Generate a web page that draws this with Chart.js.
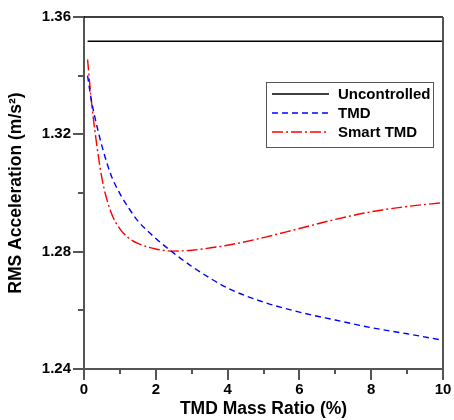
<!DOCTYPE html>
<html>
<head>
<meta charset="utf-8">
<script src="https://cdn.jsdelivr.net/npm/chart.js@4"></script>
<style>
  html, body { margin: 0; padding: 0; background: #fff; }
  #wrap { width: 454px; height: 420px; }
</style>
</head>
<body>
<div id="wrap"><canvas id="rmsChart" width="454" height="420"></canvas></div>
<script>
// mass ratio (%) sample points
const massRatio = [0.1, 0.2, 0.3, 0.5, 0.75, 1, 1.25, 1.5, 2, 2.5, 3, 4, 5, 6, 7, 8, 9, 10];
const uncontrolled = [1.3517, 1.3517, 1.3517, 1.3517, 1.3517, 1.3517, 1.3517, 1.3517, 1.3517,
                      1.3517, 1.3517, 1.3517, 1.3517, 1.3517, 1.3517, 1.3517, 1.3517, 1.3517];
const tmd = [1.3400, 1.3320, 1.3260, 1.3160, 1.3062, 1.2998, 1.2948, 1.2905, 1.2845, 1.2795,
             1.2750, 1.2676, 1.2628, 1.2594, 1.2567, 1.2541, 1.2520, 1.2498];
const smartTmd = [1.3455, 1.3320, 1.3215, 1.3050, 1.2935, 1.2878, 1.2846, 1.2828, 1.2809, 1.2802,
                  1.2805, 1.2822, 1.2848, 1.2879, 1.2910, 1.2936, 1.2954, 1.2967];
const seriesNames = ['Uncontrolled', 'TMD', 'Smart TMD'];

const xTicks = [0, 2, 4, 6, 8, 10];
const xMinor = [1, 3, 5, 7, 9];
const yTicks = [1.24, 1.28, 1.32, 1.36];
const yMinor = [1.26, 1.30, 1.34];

const axisColor = '#555';
const boldFont = (size) => ({ family: 'Liberation Sans, Arial, sans-serif', size: size, weight: 'bold' });

const toPoints = (ys) => massRatio.map((x, i) => ({ x: x, y: ys[i] }));

// box on top/right, minor ticks and the inner legend
const framePlugin = {
  id: 'frame',
  afterDraw(chart) {
    const { ctx, chartArea: a, scales } = chart;
    ctx.save();
    // top and right border
    ctx.strokeStyle = '#000';
    ctx.lineWidth = 1.5;
    ctx.beginPath();
    ctx.moveTo(a.left, a.top);
    ctx.lineTo(a.right, a.top);
    ctx.stroke();
    ctx.strokeStyle = axisColor;
    ctx.lineWidth = 2;
    ctx.beginPath();
    ctx.moveTo(a.right, a.top);
    ctx.lineTo(a.right, a.bottom + 1);
    ctx.stroke();

    // minor ticks
    ctx.lineWidth = 2;
    ctx.strokeStyle = axisColor;
    yMinor.forEach(v => {
      const y = Math.round(scales.y.getPixelForValue(v));
      ctx.beginPath();
      ctx.moveTo(a.left - 6, y);
      ctx.lineTo(a.left, y);
      ctx.stroke();
    });
    xMinor.forEach(v => {
      const x = Math.round(scales.x.getPixelForValue(v));
      ctx.beginPath();
      ctx.moveTo(x, a.bottom);
      ctx.lineTo(x, a.bottom + 5);
      ctx.stroke();
    });

    // legend box
    const bx = a.left + 182, by = a.top + 65, bw = 167, bh = 65;
    ctx.lineWidth = 1;
    ctx.strokeStyle = axisColor;
    ctx.strokeRect(bx + 0.5, by + 0.5, bw, bh);
    ctx.font = 'bold 15px "Liberation Sans", Arial, sans-serif';
    ctx.textBaseline = 'middle';
    ctx.textAlign = 'left';
    chart.data.datasets.forEach((ds, i) => {
      const y = by + 12 + i * 19;
      ctx.strokeStyle = ds.borderColor;
      ctx.lineWidth = ds.borderWidth;
      ctx.setLineDash(ds.borderDash || []);
      ctx.beginPath();
      ctx.moveTo(bx + 6, y);
      ctx.lineTo(bx + 63, y);
      ctx.stroke();
      ctx.setLineDash([]);
      ctx.fillStyle = '#000';
      ctx.fillText(ds.label, bx + 72, y + 1);
    });
    ctx.restore();
  }
};

new Chart(document.getElementById('rmsChart').getContext('2d'), {
  type: 'line',
  data: {
    datasets: [
      {
        label: seriesNames[0],
        data: toPoints(uncontrolled),
        borderColor: '#000',
        borderWidth: 1.5,
        pointRadius: 0,
        tension: 0
      },
      {
        label: seriesNames[1],
        data: toPoints(tmd),
        borderColor: '#0000ff',
        borderWidth: 1.4,
        borderDash: [6, 4],
        pointRadius: 0,
        cubicInterpolationMode: 'monotone'
      },
      {
        label: seriesNames[2],
        data: toPoints(smartTmd),
        borderColor: '#ff0000',
        borderWidth: 1.4,
        borderDash: [11, 3, 2, 3],
        pointRadius: 0,
        cubicInterpolationMode: 'monotone'
      }
    ]
  },
  options: {
    responsive: false,
    animation: false,
    layout: { padding: { top: 17, right: 11, left: 0, bottom: 0 } },
    plugins: {
      legend: { display: false },
      tooltip: { enabled: false }
    },
    scales: {
      x: {
        type: 'linear',
        min: 0,
        max: 10,
        afterBuildTicks: (scale) => { scale.ticks = xTicks.map(v => ({ value: v })); },
        afterFit: (scale) => { scale.height = 51; },
        border: { color: axisColor, width: 2 },
        grid: { drawOnChartArea: false, tickLength: 11, color: axisColor, lineWidth: 2 },
        ticks: { color: '#000', font: boldFont(15), padding: 1, maxRotation: 0 },
        title: {
          display: true,
          text: 'TMD Mass Ratio (%)',
          color: '#000',
          font: boldFont(17.5),
          padding: { top: 0, bottom: 0 }
        }
      },
      y: {
        min: 1.24,
        max: 1.36,
        afterBuildTicks: (scale) => { scale.ticks = yTicks.map(v => ({ value: v })); },
        afterFit: (scale) => { scale.width = 84; },
        border: { color: axisColor, width: 2 },
        grid: { drawOnChartArea: false, tickLength: 11, color: axisColor, lineWidth: 2 },
        ticks: {
          color: '#000',
          font: boldFont(15),
          padding: 2,
          callback: (v) => v.toFixed(2)
        },
        title: {
          display: true,
          text: 'RMS Acceleration (m/s²)',
          color: '#000',
          font: boldFont(17.5),
          padding: { top: 6, bottom: 0 }
        }
      }
    }
  },
  plugins: [framePlugin]
});
</script>
</body>
</html>
